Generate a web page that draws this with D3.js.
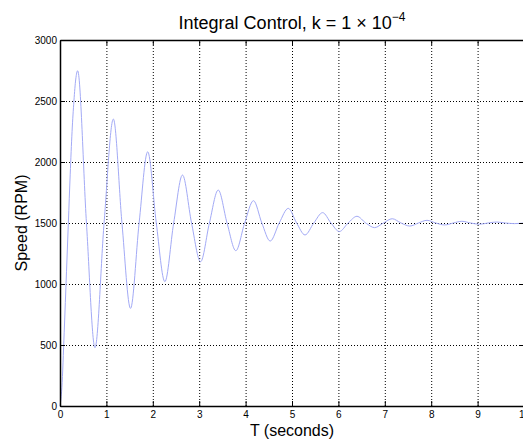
<!DOCTYPE html>
<html>
<head>
<meta charset="utf-8">
<script src="https://cdn.jsdelivr.net/npm/d3@7"></script>
<style>
  body { margin: 0; background: #fff; }
  svg { display: block; font-family: "Liberation Sans", Arial, Helvetica, sans-serif; }
</style>
</head>
<body>
<div id="chart"></div>
<script>
// values (time in s, speed in RPM)
const timeSec = [0, 0.04, 0.09, 0.14, 0.18, 0.22, 0.26, 0.30, 0.34, 0.38,
  0.57, 0.754, 0.95, 1.15, 1.335, 1.52, 1.705, 1.89, 2.075, 2.26, 2.45, 2.64,
  2.835, 3.03, 3.22, 3.41, 3.60, 3.79, 3.98, 4.17, 4.35, 4.53, 4.725, 4.92,
  5.10, 5.28, 5.47, 5.66, 5.84, 6.02, 6.21, 6.40, 6.59, 6.78, 6.97, 7.16,
  7.35, 7.54, 7.725, 7.91, 8.10, 8.29, 8.475, 8.66, 8.85, 9.04, 9.225, 9.41,
  9.60, 9.79, 10];
const speedRpm = [0, 150, 600, 1100, 1500, 1900, 2250, 2500, 2680, 2748,
  1500, 478, 1500, 2352, 1500, 800, 1500, 2084, 1500, 1019, 1500, 1893,
  1500, 1183, 1500, 1770, 1500, 1273, 1500, 1683, 1500, 1352, 1500, 1620,
  1500, 1402, 1500, 1585, 1500, 1430, 1500, 1555, 1500, 1462, 1500, 1535,
  1500, 1475, 1500, 1522, 1500, 1484, 1500, 1514, 1500, 1490, 1500, 1508,
  1500, 1495, 1500];
const xTickValues = [0, 1, 2, 3, 4, 5, 6, 7, 8, 9, 10];
const yTickValues = [0, 500, 1000, 1500, 2000, 2500, 3000];

const width = 523;
const height = 441;
const margin = { top: 40, left: 60, right: -1, bottom: 35 };
const innerW = width - margin.left - margin.right;
const innerH = height - margin.top - margin.bottom;

const svg = d3.select("#chart")
  .append("svg")
  .attr("width", width)
  .attr("height", height);

const x = d3.scaleLinear().domain([0, 10]).range([0, innerW]);
const y = d3.scaleLinear().domain([0, 3000]).range([innerH, 0]);

const g = svg.append("g")
  .attr("transform", `translate(${margin.left},${margin.top})`);

// dotted grid
g.append("g")
  .attr("class", "grid")
  .attr("transform", `translate(0,${innerH})`)
  .call(d3.axisBottom(x).tickValues(xTickValues).tickSize(-innerH).tickFormat(""));
g.append("g")
  .attr("class", "grid")
  .call(d3.axisLeft(y).tickValues(yTickValues).tickSize(-innerW).tickFormat(""));
g.selectAll(".grid .domain").remove();
g.selectAll(".grid line")
  .attr("stroke", "#000")
  .attr("stroke-width", 1)
  .attr("stroke-dasharray", "1,2");

// speed curve
const line = d3.line()
  .x((d, i) => x(timeSec[i]))
  .y(d => y(d))
  .curve(d3.curveMonotoneX);

g.append("path")
  .datum(speedRpm)
  .attr("fill", "none")
  .attr("stroke", "#a3aaf6")
  .attr("stroke-width", 1)
  .attr("d", line);

// axes with inward ticks
const xAxis = g.append("g")
  .attr("transform", `translate(0,${innerH})`)
  .call(d3.axisBottom(x).tickValues(xTickValues).tickFormat(d3.format("d"))
    .tickSizeInner(-5).tickSizeOuter(0).tickPadding(5));
const yAxis = g.append("g")
  .call(d3.axisLeft(y).tickValues(yTickValues).tickFormat(d3.format("d"))
    .tickSizeInner(-5).tickSizeOuter(0).tickPadding(3));
const topAxis = g.append("g")
  .call(d3.axisTop(x).tickValues(xTickValues).tickSizeInner(-5).tickSizeOuter(0).tickFormat(""));
const rightAxis = g.append("g")
  .attr("transform", `translate(${innerW},0)`)
  .call(d3.axisRight(y).tickValues(yTickValues).tickSizeInner(-5).tickSizeOuter(0).tickFormat(""));

[xAxis, yAxis, topAxis, rightAxis].forEach(a => {
  a.select(".domain").attr("stroke", "#000").attr("stroke-width", 1.5);
  a.selectAll(".tick line").attr("stroke", "#000");
  a.selectAll("text")
    .attr("fill", "#000")
    .style("font-family", "'Liberation Sans', Arial, sans-serif")
    .style("font-size", "10px");
});

// title and labels
const title = svg.append("text")
  .attr("x", margin.left + innerW / 2)
  .attr("y", 29)
  .attr("text-anchor", "middle")
  .style("font-size", "18px")
  .text("Integral Control, k = 1 \u00d7 10");
title.append("tspan")
  .attr("dy", -8)
  .style("font-size", "12px")
  .text("\u22124");

svg.append("text")
  .attr("x", margin.left + innerW / 2)
  .attr("y", 436)
  .attr("text-anchor", "middle")
  .style("font-size", "16px")
  .text("T (seconds)");

svg.append("text")
  .attr("transform", `translate(27,${margin.top + innerH / 2}) rotate(-90)`)
  .attr("text-anchor", "middle")
  .style("font-size", "16px")
  .text("Speed (RPM)");
</script>
</body>
</html>
